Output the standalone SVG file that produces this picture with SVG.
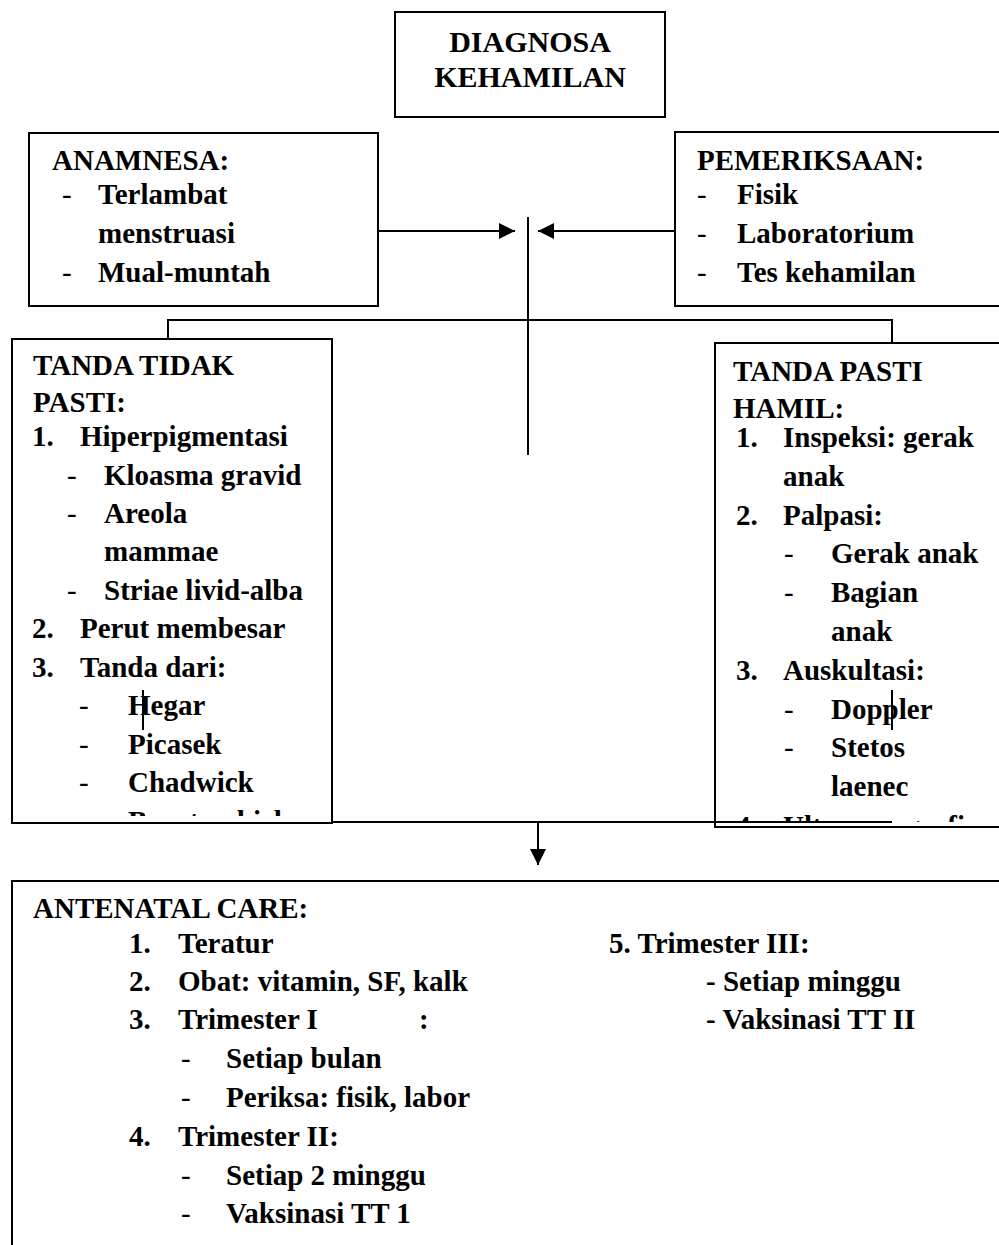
<svg xmlns="http://www.w3.org/2000/svg" width="999" height="1245" viewBox="0 0 999 1245">
<style>
.t{font-family:"Liberation Serif","Times New Roman",serif;font-weight:bold;font-size:29px;fill:#000}
.h{font-size:30px}
.d{font-weight:normal}
.box{fill:#fff;stroke:#000;stroke-width:2}
.ln{stroke:#000;stroke-width:2;fill:none}
</style>
<defs>
<marker id="arr" viewBox="0 0 16 16" refX="16" refY="8" markerWidth="16" markerHeight="16" markerUnits="userSpaceOnUse" orient="auto">
<path d="M0,0 L16,8 L0,16 Z" fill="#000"/>
</marker>
<clipPath id="clipL"><rect x="0" y="330" width="340" height="486"/></clipPath>
<clipPath id="clipR"><rect x="700" y="330" width="310" height="492"/></clipPath>
</defs>
<rect width="999" height="1245" fill="#fff"/>

<g id="diagnosa">
<rect class="box" x="395" y="12" width="270" height="105"/>
<text class="t h" x="530" y="52" text-anchor="middle">DIAGNOSA</text>
<text class="t h" x="530" y="87" text-anchor="middle">KEHAMILAN</text>
</g>

<g id="anamnesa">
<rect class="box" x="29" y="133" width="349" height="173"/>
<text class="t" x="52" y="170">ANAMNESA:</text>
<text class="t d" x="62" y="204">-</text><text class="t" x="98" y="204">Terlambat</text>
<text class="t" x="98" y="243">menstruasi</text>
<text class="t d" x="62" y="282">-</text><text class="t" x="98" y="282">Mual-muntah</text>
</g>

<g id="pemeriksaan">
<rect class="box" x="675" y="132" width="340" height="174"/>
<text class="t" x="697" y="170">PEMERIKSAAN:</text>
<text class="t d" x="697" y="204">-</text><text class="t" x="737" y="204">Fisik</text>
<text class="t d" x="697" y="243">-</text><text class="t" x="737" y="243">Laboratorium</text>
<text class="t d" x="697" y="282">-</text><text class="t" x="737" y="282">Tes kehamilan</text>
</g>

<g id="tanda-tidak-pasti">
<rect class="box" x="12" y="339" width="320" height="484"/>
<g clip-path="url(#clipL)">
<text class="t" x="33" y="375">TANDA TIDAK</text>
<text class="t" x="33" y="412">PASTI:</text>
<text class="t" x="32" y="446">1.</text><text class="t" x="80" y="446">Hiperpigmentasi</text>
<text class="t d" x="67" y="485">-</text><text class="t" x="104" y="485">Kloasma gravid</text>
<text class="t d" x="67" y="523">-</text><text class="t" x="104" y="523">Areola</text>
<text class="t" x="104" y="561">mammae</text>
<text class="t d" x="67" y="600">-</text><text class="t" x="104" y="600">Striae livid-alba</text>
<text class="t" x="32" y="638">2.</text><text class="t" x="80" y="638">Perut membesar</text>
<text class="t" x="32" y="677">3.</text><text class="t" x="80" y="677">Tanda dari:</text>
<text class="t d" x="79" y="715">-</text><text class="t" x="128" y="715">Hegar</text>
<text class="t d" x="79" y="754">-</text><text class="t" x="128" y="754">Picasek</text>
<text class="t d" x="79" y="792">-</text><text class="t" x="128" y="792">Chadwick</text>
<text class="t d" x="79" y="831">-</text><text class="t" x="128" y="831">Braxton hicks</text>
</g>
</g>

<g id="tanda-pasti-hamil">
<rect class="box" x="715" y="343" width="300" height="484"/>
<g clip-path="url(#clipR)">
<text class="t" x="733" y="381">TANDA PASTI</text>
<text class="t" x="733" y="418">HAMIL:</text>
<text class="t" x="736" y="447">1.</text><text class="t" x="783" y="447">Inspeksi: gerak</text>
<text class="t" x="783" y="486">anak</text>
<text class="t" x="736" y="525">2.</text><text class="t" x="783" y="525">Palpasi:</text>
<text class="t d" x="784" y="563">-</text><text class="t" x="831" y="563">Gerak anak</text>
<text class="t d" x="784" y="602">-</text><text class="t" x="831" y="602">Bagian</text>
<text class="t" x="831" y="641">anak</text>
<text class="t" x="736" y="680">3.</text><text class="t" x="783" y="680">Auskultasi:</text>
<text class="t d" x="784" y="719">-</text><text class="t" x="831" y="719">Doppler</text>
<text class="t d" x="784" y="757">-</text><text class="t" x="831" y="757">Stetos</text>
<text class="t" x="831" y="796">laenec</text>
<text class="t" x="736" y="836">4.</text><text class="t" x="783" y="836">Ultrasonografi</text>
</g>
</g>

<g id="antenatal-care">
<rect class="box" x="12" y="881" width="1000" height="380"/>
<text class="t" x="33" y="918">ANTENATAL CARE:</text>
<text class="t" x="129" y="953">1.</text><text class="t" x="178" y="953">Teratur</text>
<text class="t" x="129" y="991">2.</text><text class="t" x="178" y="991">Obat: vitamin, SF, kalk</text>
<text class="t" x="129" y="1029">3.</text><text class="t" x="178" y="1029">Trimester I</text><text class="t" x="419" y="1029">:</text>
<text class="t d" x="181" y="1068">-</text><text class="t" x="226" y="1068">Setiap bulan</text>
<text class="t d" x="181" y="1107">-</text><text class="t" x="226" y="1107">Periksa: fisik, labor</text>
<text class="t" x="129" y="1146">4.</text><text class="t" x="178" y="1146">Trimester II:</text>
<text class="t d" x="181" y="1185">-</text><text class="t" x="226" y="1185">Setiap 2 minggu</text>
<text class="t d" x="181" y="1223">-</text><text class="t" x="226" y="1223">Vaksinasi TT 1</text>
<text class="t" x="609" y="953">5. Trimester III:</text>
<text class="t" x="706" y="991">- Setiap minggu</text>
<text class="t" x="706" y="1029">- Vaksinasi TT II</text>
</g>

<g id="connectors">
<line class="ln" x1="378" y1="231" x2="515" y2="231" marker-end="url(#arr)"/>
<line class="ln" x1="676" y1="231" x2="538" y2="231" marker-end="url(#arr)"/>
<line class="ln" x1="528" y1="217" x2="528" y2="455"/>
<polyline class="ln" points="168,339 168,320 892,320 892,343"/>
<line class="ln" x1="143" y1="690" x2="143" y2="730"/>
<line class="ln" x1="892" y1="690" x2="892" y2="730"/>
<line class="ln" x1="143" y1="823" x2="332" y2="823"/>
<line class="ln" x1="332" y1="822" x2="892" y2="822"/>
<line class="ln" x1="538" y1="822" x2="538" y2="865" marker-end="url(#arr)"/>
</g>
</svg>
